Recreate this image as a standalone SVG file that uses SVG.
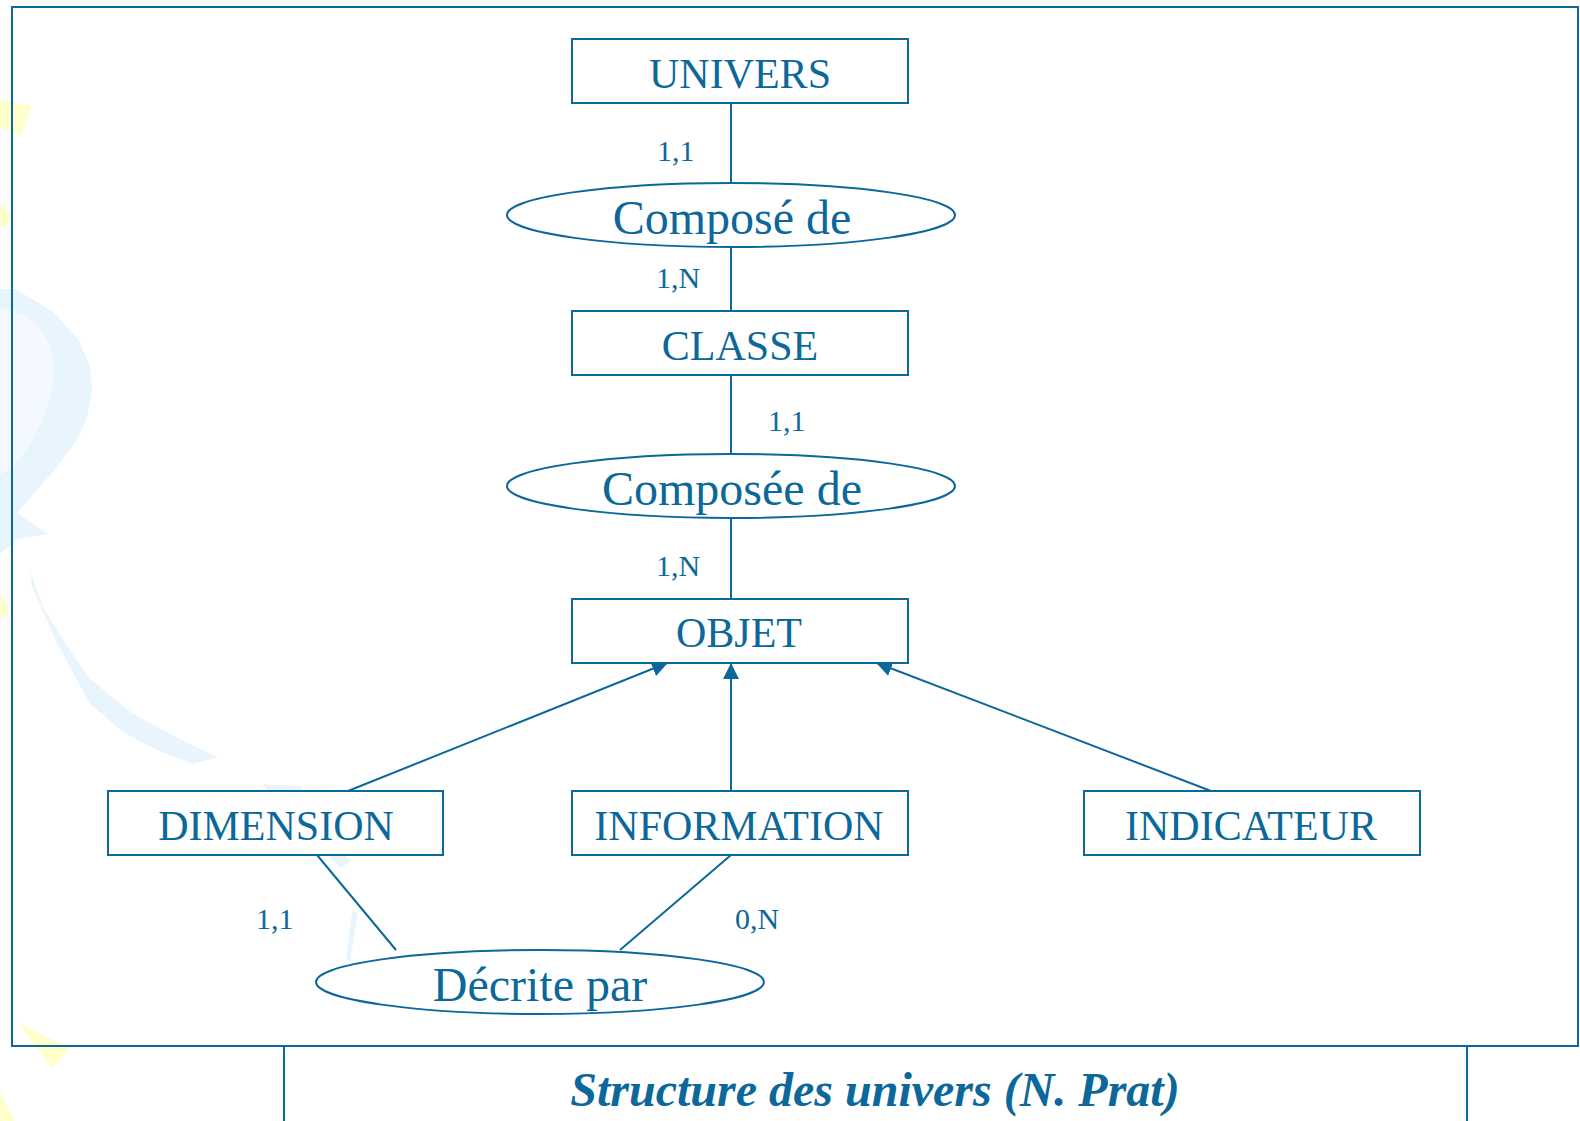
<svg xmlns="http://www.w3.org/2000/svg" width="1580" height="1121" viewBox="0 0 1580 1121">
<defs>
<style>
.bg{fill:#ffffff}
.yel{fill:#ffffcc}
.blu{fill:#e8f5fd}
.blu2{fill:#f3f9fe}
.frame{fill:none;stroke:#0c689a;stroke-width:2}
.box{fill:#ffffff;stroke:#0c689a;stroke-width:2}
.ell{fill:#ffffff;stroke:#0c689a;stroke-width:2}
.ln{fill:none;stroke:#0c689a;stroke-width:2}
.t{font-family:"Liberation Serif","Times New Roman",serif;fill:#0c689a;text-anchor:middle}
.tb{font-size:42px}
.te{font-size:48px}
.tc{font-family:"Liberation Serif","Times New Roman",serif;fill:#0c689a;font-size:30px}
.cap{font-family:"Liberation Serif","Times New Roman",serif;fill:#0c689a;font-size:48px;font-weight:bold;font-style:italic;text-anchor:middle}
</style>
<marker id="arr" viewBox="0 0 16 16" refX="15" refY="8" markerWidth="16" markerHeight="16" markerUnits="userSpaceOnUse" orient="auto">
<path d="M0,0 L16,8 L0,16 Z" fill="#0c689a"/>
</marker>
</defs>
<rect class="bg" x="0" y="0" width="1580" height="1121"/>
<g id="background">
<polygon class="yel" points="0,100 32,106 21,136 0,128"/>
<polygon class="yel" points="0,204 15,218 0,229"/>
<polygon class="yel" points="0,593 10,611 0,621"/>
<polygon class="yel" points="18,1023 70,1048 52,1068"/>
<polygon class="yel" points="0,1091 14,1121 0,1121"/>
<polygon class="blu" points="0,289 15,289 32,299 52,311 78,339 90,366 92,391 87,418 75,443 55,469 32,496 17,513 48,534 17,539 0,554"/>
<polygon class="blu2" points="0,307 25,315 40,328 50,345 54,366 52,392 43,420 30,445 15,465 0,475"/>
<polygon class="blu" points="30,571 43,607 67,646 90,679 133,714 187,743 218,757 193,764 157,750 123,732 90,704 55,639 32,586"/>
<polygon class="blu" points="262,784 300,786 350,862 340,868"/>
<polygon class="blu" points="352,912 358,912 350,962 346,958"/>
</g>
<g id="frame">
<rect class="frame" x="12" y="7" width="1566" height="1039"/>
<line class="frame" x1="284" y1="1046" x2="284" y2="1121"/>
<line class="frame" x1="1467" y1="1046" x2="1467" y2="1121"/>
</g>
<g id="connectors">
<line class="ln" x1="731" y1="103" x2="731" y2="183"/>
<line class="ln" x1="731" y1="247" x2="731" y2="310"/>
<line class="ln" x1="731" y1="375" x2="731" y2="454"/>
<line class="ln" x1="731" y1="518" x2="731" y2="599"/>
<line class="ln" x1="348" y1="791" x2="667" y2="663" marker-end="url(#arr)"/>
<line class="ln" x1="731" y1="791" x2="731" y2="664" marker-end="url(#arr)"/>
<line class="ln" x1="1211" y1="791" x2="877" y2="663" marker-end="url(#arr)"/>
<line class="ln" x1="317" y1="855" x2="396" y2="950"/>
<line class="ln" x1="731" y1="855" x2="620" y2="950"/>
<text class="tc" x="657" y="161">1,1</text>
<text class="tc" x="656" y="288">1,N</text>
<text class="tc" x="768" y="431">1,1</text>
<text class="tc" x="656" y="576">1,N</text>
<text class="tc" x="256" y="929">1,1</text>
<text class="tc" x="735" y="929">0,N</text>
</g>
<g id="univers">
<rect class="box" x="572" y="39" width="336" height="64"/>
<text class="t tb" x="740" y="88">UNIVERS</text>
</g>
<g id="compose-de">
<ellipse class="ell" cx="731" cy="215" rx="224" ry="32"/>
<text class="t te" x="732" y="234">Composé de</text>
</g>
<g id="classe">
<rect class="box" x="572" y="311" width="336" height="64"/>
<text class="t tb" x="740" y="360">CLASSE</text>
</g>
<g id="composee-de">
<ellipse class="ell" cx="731" cy="486" rx="224" ry="32"/>
<text class="t te" x="732" y="505">Composée de</text>
</g>
<g id="objet">
<rect class="box" x="572" y="599" width="336" height="64"/>
<text class="t tb" x="739" y="647">OBJET</text>
</g>
<g id="dimension">
<rect class="box" x="108" y="791" width="335" height="64"/>
<text class="t tb" x="276" y="840">DIMENSION</text>
</g>
<g id="information">
<rect class="box" x="572" y="791" width="336" height="64"/>
<text class="t tb" x="739" y="840">INFORMATION</text>
</g>
<g id="indicateur">
<rect class="box" x="1084" y="791" width="336" height="64"/>
<text class="t tb" x="1251" y="840">INDICATEUR</text>
</g>
<g id="decrite-par">
<ellipse class="ell" cx="540" cy="982" rx="224" ry="32"/>
<text class="t te" x="540" y="1001">Décrite par</text>
</g>
<g id="caption">
<text class="cap" x="875" y="1106">Structure des univers (N. Prat)</text>
</g>
</svg>
